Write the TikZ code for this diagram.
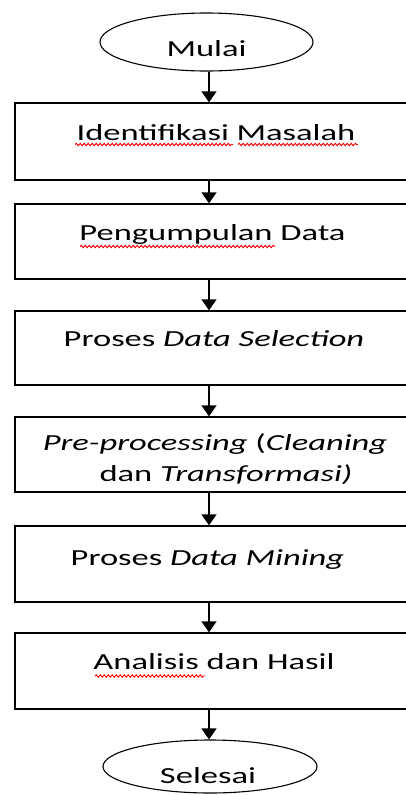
\documentclass[tikz,border=0pt]{standalone}
\usepackage{graphicx}
\usepackage{fontspec}
\setmainfont{Carlito}
\usetikzlibrary{shapes.geometric,arrows.meta,decorations.pathmorphing}
\newcommand\widetxt[1]{\scalebox{1.5}[1]{#1}}
\begin{document}
\begin{tikzpicture}[x=1pt,y=-1pt,
  stepbox/.style={draw, rectangle, line width=1.3pt, minimum width=400pt, inner sep=0pt},
  term/.style={draw, ellipse, line width=1.1pt, inner sep=0pt},
  lbl/.style={font=\fontsize{23}{30}\selectfont, inner sep=0pt, anchor=base},
  arr/.style={line width=1.3pt, -{Triangle[width=15pt,length=11pt]}},
  squig/.style={red, line width=0.9pt, decorate,
    decoration={snake, amplitude=1.2pt, segment length=4pt}}]
\useasboundingbox (0,0) rectangle (406,795);
\clip (0,0) rectangle (406,795);

% vertical axis of the connectors
\coordinate (axis) at (209,0);

% terminals
\node[term, minimum width=213pt, minimum height=58pt] (start) at (206.5,42) {};
\node[lbl] (tstart) at (206.5,56) {\widetxt{Mulai}};
\node[term, minimum width=214pt, minimum height=53pt] (stop) at (210,766.5) {};
\node[lbl] (tstop) at (208,783) {\widetxt{Selesai}};

% process boxes
\node[stepbox, minimum height=77pt] (b1) at (215,141.5) {};
\node[stepbox, minimum height=75pt] (b2) at (215,241.5) {};
\node[stepbox, minimum height=74pt] (b3) at (215,348) {};
\node[stepbox, minimum height=75pt] (b4) at (215,454.5) {};
\node[stepbox, minimum height=76pt] (b5) at (215,564) {};
\node[stepbox, minimum height=76pt] (b6) at (215,671) {};

% box texts
\node[lbl] (t1) at (216,140) {\widetxt{Identifikasi Masalah}};
\node[lbl] (t2) at (212.5,240.7) {\widetxt{Pengumpulan Data}};
\node[lbl] (t3) at (214,346.7) {\widetxt{Proses \textit{Data Selection}}};
\node[lbl] (t4a) at (215,450) {\widetxt{\textit{Pre-processing} (\textit{Cleaning}}};
\node[lbl] (t4b) at (226,481.5) {\widetxt{dan \textit{Transformasi)}}};
\node[lbl] (t5) at (207.5,565) {\widetxt{Proses \textit{Data Mining}}};
\node[lbl] (t6) at (214,669) {\widetxt{Analisis dan Hasil}};

% spelling marks under words
\draw[squig] (75,144.5) -- (233,144.5);
\draw[squig] (238,144.5) -- (358,144.5);
\draw[squig] (80,246.5) -- (275,246.5);
\draw[squig] (95,676) -- (205,676);

% connectors
\draw[arr] (start.south -| axis) -- (b1.north -| axis);
\draw[arr] (b1.south -| axis) -- (b2.north -| axis);
\draw[arr] (b2.south -| axis) -- (b3.north -| axis);
\draw[arr] (b3.south -| axis) -- (b4.north -| axis);
\draw[arr] (b4.south -| axis) -- (b5.north -| axis);
\draw[arr] (b5.south -| axis) -- (b6.north -| axis);
\draw[arr] (b6.south -| axis) -- (stop.north -| axis);
\end{tikzpicture}
\end{document}
